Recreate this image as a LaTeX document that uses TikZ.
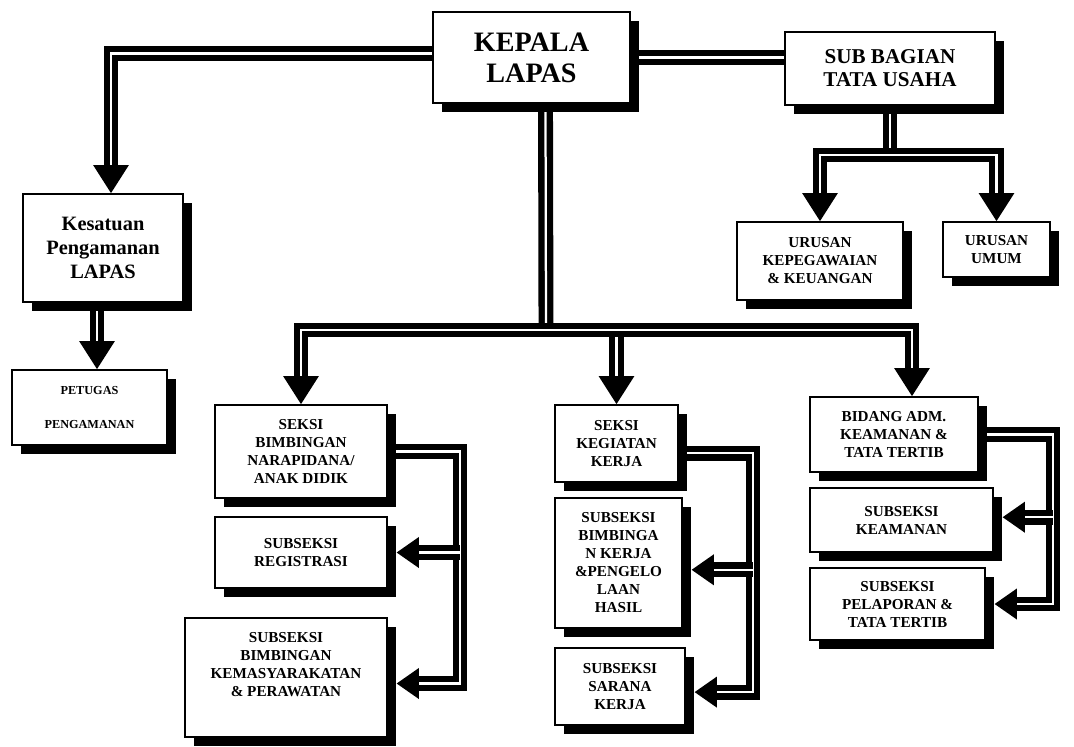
\documentclass[tikz,border=0pt]{standalone}
\usepackage{fontspec}
\setmainfont{Liberation Serif}
\usetikzlibrary{arrows.meta,shadows,backgrounds}
\tikzset{
  box/.style={draw=black, line width=0.9pt, fill=white, align=center, inner sep=1pt,
    font=\bfseries\fontsize{10.8}{12.8}\selectfont,
    drop shadow={shadow xshift=0.22cm, shadow yshift=-0.22cm, opacity=1, fill=black}},
  link/.style={draw=black, line width=4.5pt, double=white, double distance=1.6pt},
  downhead/.tip={Triangle[width=24pt,length=20pt]},
  sidehead/.tip={Triangle[width=21pt,length=16pt]}
}
\begin{document}
\begin{tikzpicture}[x=0.025cm, y=-0.025cm]
\useasboundingbox (0,0) rectangle (1074,746);
% top
\node[box, minimum width=4.925cm, minimum height=2.275cm, font=\bfseries\fontsize{20}{22}\selectfont] (kepala) at (531.5,57.5) {KEPALA\\LAPAS};
\node[box, minimum width=5.25cm, minimum height=1.825cm, font=\bfseries\fontsize{15}{16.5}\selectfont] (tatausaha) at (890,68.5) {SUB BAGIAN\\TATA USAHA};
\node[box, minimum width=4cm, minimum height=2.7cm, font=\bfseries\fontsize{14.5}{17}\selectfont] (kpl) at (103,248) {Kesatuan\\Pengamanan\\LAPAS};
\node[box, minimum width=3.875cm, minimum height=1.875cm, font=\bfseries\fontsize{8.7}{24}\selectfont] (petugas) at (89.5,407.5) {PETUGAS\\PENGAMANAN};
\node[box, minimum width=4.15cm, minimum height=1.95cm] (kepeg) at (820,261) {URUSAN\\KEPEGAWAIAN\\\& KEUANGAN};
\node[box, minimum width=2.675cm, minimum height=1.375cm] (umum) at (996.5,249.5) {URUSAN\\UMUM};
% seksi
\node[box, minimum width=4.3cm, minimum height=2.325cm] (bimb) at (301,451.5) {SEKSI\\BIMBINGAN\\NARAPIDANA/\\ANAK DIDIK};
\node[box, minimum width=4.3cm, minimum height=1.775cm] (regis) at (301,552.5) {SUBSEKSI\\REGISTRASI};
\node[box, minimum width=5.05cm, minimum height=2.975cm, text depth=0.65cm] (kemas) at (286,677.5) {SUBSEKSI\\BIMBINGAN\\KEMASYARAKATAN\\\& PERAWATAN};
\node[box, minimum width=3.075cm, minimum height=1.925cm] (kerja) at (616.5,443.5) {SEKSI\\KEGIATAN\\KERJA};
\node[box, minimum width=3.175cm, minimum height=3.25cm] (hasil) at (618.5,563) {SUBSEKSI\\BIMBINGA\\N KERJA\\\&PENGELO\\LAAN\\HASIL};
\node[box, minimum width=3.25cm, minimum height=1.925cm] (sarana) at (620,686.5) {SUBSEKSI\\SARANA\\KERJA};
\node[box, minimum width=4.2cm, minimum height=1.875cm] (adm) at (894,434.5) {BIDANG ADM.\\KEAMANAN \&\\TATA TERTIB};
\node[box, minimum width=4.575cm, minimum height=1.6cm] (aman) at (901.5,520) {SUBSEKSI\\KEAMANAN};
\node[box, minimum width=4.375cm, minimum height=1.8cm] (lapor) at (897.5,604) {SUBSEKSI\\PELAPORAN \&\\TATA TERTIB};

\begin{scope}[on background layer]
  \coordinate (bus) at (546,330);
  \coordinate (tubus) at (890,155);
  \coordinate (k1) at ([xshift=-0.15cm]kpl.south);
  % kepala lapas
  \draw[link, -{downhead}] ([yshift=0.1cm]kepala.west) -| ([xshift=0.2cm]kpl.north);
  \draw[link] (kepala.east) -- (kepala.east -| tatausaha.west);
  \draw[link, -{downhead}] (k1) -- (k1 |- petugas.north);
  \draw[link] (tatausaha.south) -- (tubus);
  \draw[link, -{downhead}] (tubus) -| (kepeg.north);
  \draw[link, -{downhead}] (tubus) -| (umum.north);
  \draw[link] ([xshift=0.35cm]kepala.south) -- (bus);
  \foreach \n/\s in {bimb/0cm, kerja/0cm, adm/0.45cm}
    \draw[link, -{downhead}] (bus) -| ([xshift=\s]\n.north);
  % subseksi
  \coordinate (rail1) at (460,0);
  \coordinate (rail2) at (753,0);
  \coordinate (rail3) at (1053,0);
  \coordinate (regis in) at ([xshift=0.22cm]regis.east);
  \coordinate (kemas in) at ([xshift=0.22cm,yshift=-0.15cm]kemas.east);
  \coordinate (hasil in) at ([xshift=0.22cm,yshift=-0.17cm]hasil.east);
  \coordinate (sarana in) at ([xshift=0.22cm,yshift=-0.14cm]sarana.east);
  \coordinate (aman in) at ([xshift=0.22cm,yshift=0.07cm]aman.east);
  \coordinate (lapor in) at ([xshift=0.22cm]lapor.east);
  \draw[link, -{sidehead}] (bimb.east) -| (rail1 |- kemas in) -- (kemas in);
  \draw[link, -{sidehead}] (rail1 |- regis in) -- (regis in);
  \draw[link, -{sidehead}] ([yshift=-0.24cm]kerja.east) -| (rail2 |- sarana in) -- (sarana in);
  \draw[link, -{sidehead}] (rail2 |- hasil in) -- (hasil in);
  \draw[link, -{sidehead}] (adm.east) -| (rail3 |- lapor in) -- (lapor in);
  \draw[link, -{sidehead}] (rail3 |- aman in) -- (aman in);
\end{scope}
\end{tikzpicture}
\end{document}
